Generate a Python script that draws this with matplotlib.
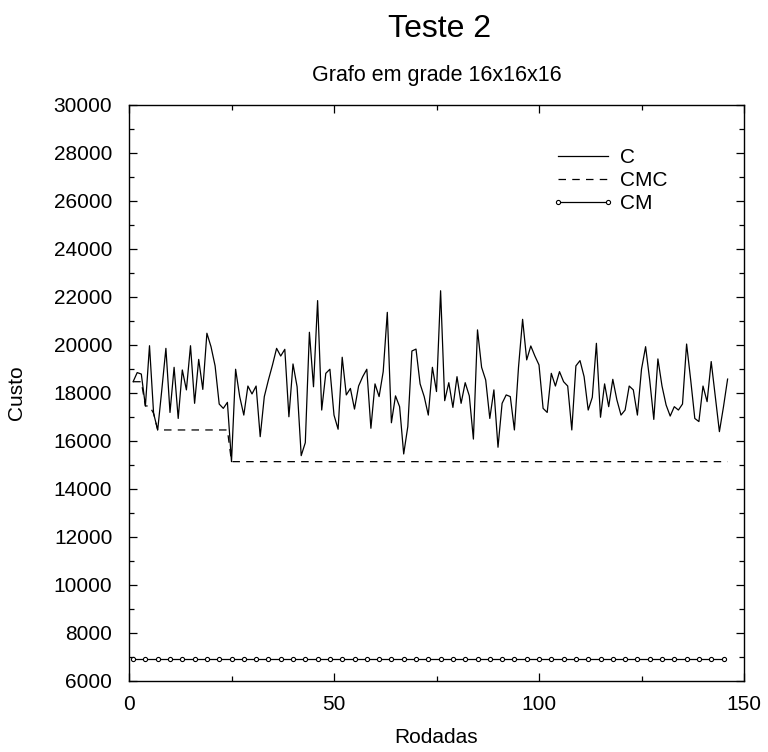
import numpy as np
import matplotlib
matplotlib.use("Agg")
from matplotlib import pyplot as plt
from matplotlib.ticker import MultipleLocator

plt.rcParams['font.family'] = ['Liberation Sans', 'DejaVu Sans']

# custo por rodada (serie C), rodadas 1..146
custo_c = [
    18470, 18850, 18790, 17460, 19970, 17150, 16460, 18130, 19860, 17190,
    19070, 16940, 18960, 18130, 19970, 17570, 19400, 18150, 20490, 19930,
    19130, 17540, 17360, 17610, 15140, 18990, 17850, 17080, 18290, 17960,
    18290, 16180, 17850, 18540, 19170, 19860, 19540, 19820, 17010, 19210,
    18260, 15390, 15930, 20530, 18260, 21850, 17290, 18820, 18990, 17080,
    16490, 19490, 17920, 18190, 17330, 18290, 18680, 18990, 16530, 18380,
    17850, 18890, 21360, 16760, 17880, 17430, 15460, 16600, 19750, 19830,
    18380, 17850, 17080, 19070, 18060, 22260, 17680, 18430, 17400, 18680,
    17570, 18430, 17880, 16080, 20630, 19070, 18540, 16940, 18130, 15740,
    17570, 17920, 17850, 16460, 19070, 21070, 19380, 19960, 19540, 19170,
    17360, 17190, 18820, 18290, 18890, 18470, 18290, 16460, 19130, 19350,
    18680, 17290, 17820, 20070, 16990, 18380, 17430, 18570, 17710, 17080,
    17290, 18290, 18130, 17080, 18990, 19930, 18540, 16900, 19420, 18290,
    17500, 17040, 17430, 17290, 17540, 20040, 18540, 16940, 16810, 18290,
    17640, 19310, 17850, 16390, 17430, 18580,
]
rodadas = np.arange(1, len(custo_c) + 1)

# CMC: melhor custo encontrado ate a rodada
custo_cmc = np.minimum.accumulate(custo_c)

# CM: custo medio (constante), marcado a cada 3 rodadas
rodadas_cm = np.arange(1, 146, 3)
custo_cm = [6900] * len(rodadas_cm)

fig = plt.figure(figsize=(7.68, 7.52), dpi=100)
ax = fig.add_axes([129 / 768, 1 - 681 / 752, 615 / 768, 576 / 752])

ax.plot(rodadas, custo_c, color='black', lw=0.9, label='C')
ax.plot(rodadas, custo_cmc, color='black', lw=0.9, ls=(0, (6, 5)), label='CMC')
ax.plot(rodadas_cm, custo_cm, color='black', lw=0.9, marker='o', ms=3,
        mfc='white', mec='black', mew=0.8, label='CM')

ax.set_xlim(0, 150)
ax.set_ylim(6000, 30000)
ax.xaxis.set_major_locator(MultipleLocator(50))
ax.xaxis.set_minor_locator(MultipleLocator(25))
ax.yaxis.set_major_locator(MultipleLocator(2000))
ax.yaxis.set_minor_locator(MultipleLocator(1000))
ax.tick_params(which='both', direction='in', top=True, right=True, labelsize=15, width=0.9)
ax.tick_params(which='major', length=6)
ax.tick_params(axis='x', which='major', pad=10)
ax.tick_params(axis='y', which='major', pad=12)
ax.tick_params(which='minor', length=3.5)
for s in ax.spines.values():
    s.set_linewidth(1.0)

ax.set_xlabel('Rodadas', fontsize=15, labelpad=10)
ax.set_ylabel('Custo', fontsize=15, labelpad=20)
ax.set_title('Grafo em grade 16x16x16', fontsize=15.5, pad=17)
fig.text(0.572, 0.962, 'Teste 2', fontsize=23, ha='center', va='center')

ax.legend(loc='upper left', bbox_to_anchor=(541 / 768, 1 - 138 / 752),
          bbox_transform=fig.transFigure, frameon=False, fontsize=15,
          handlelength=3.0, handletextpad=0.3, labelspacing=0.18,
          borderpad=0, numpoints=2)

fig.savefig('out.png', dpi=100)
